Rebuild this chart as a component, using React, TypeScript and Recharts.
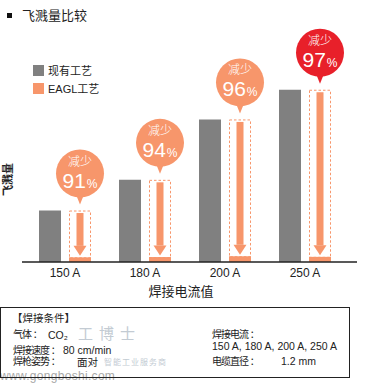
import React from 'react';
import { BarChart, Bar, XAxis, YAxis, Legend } from 'recharts';

const categories = ['150 A', '180 A', '200 A', '250 A'];
const existingValues = [52, 83, 144, 174];
const eaglValues = [4.7, 5.0, 5.8, 5.2];
const reductionLabels = ['91', '94', '96', '97'];
const highlightFlags = [false, false, false, true];
const seriesNames = ['现有工艺', 'EAGL工艺'];

const GRAY = '#808080';
const ORANGE = '#F7966B';
const RED = '#E8202A';
const CJK = '"Liberation Sans", Arial, "Noto Sans CJK SC", sans-serif';

const data = categories.map((c, i) => ({
  cat: c,
  existing: existingValues[i],
  eagl: eaglValues[i],
  rest: existingValues[i] - eaglValues[i],
  reduction: reductionLabels[i],
  highlight: highlightFlags[i],
}));

const RestShape = (props: any) => {
  const { x, y, width, height, payload } = props;
  if (x == null || y == null) return null;
  const cx = x + width / 2;
  const bottom = y + height;
  const shaftW = 7;
  const headW = 13;
  const headH = 10;
  const r = 24;
  const cy = y - 37;
  const bubbleFill = payload.highlight ? RED : ORANGE;
  return (
    <g>
      <rect
        x={x + 0.5}
        y={y + 0.5}
        width={width - 1}
        height={height}
        fill="none"
        stroke={ORANGE}
        strokeWidth={1}
        strokeDasharray="2.5 2"
      />
      <rect
        x={cx - shaftW / 2}
        y={y + 2.5}
        width={shaftW}
        height={Math.max(0, height - 2.5 - headH - 1.5)}
        fill={ORANGE}
      />
      <polygon
        points={`${cx - headW / 2},${bottom - headH - 1.5} ${cx + headW / 2},${bottom - headH - 1.5} ${cx},${bottom - 1.5}`}
        fill={ORANGE}
      />
      <circle cx={cx} cy={cy} r={r} fill={bubbleFill} />
      <polygon
        points={`${cx - 4},${cy + r - 3} ${cx + 4},${cy + r - 3} ${cx},${cy + r + 7}`}
        fill={bubbleFill}
      />
      <text
        x={cx}
        y={cy - 8}
        textAnchor="middle"
        fill="#fff"
        fontSize={12}
        fontWeight={300}
        fontFamily='"Noto Sans CJK SC", sans-serif'
      >
        减少
      </text>
      <text x={cx} y={cy + 14} textAnchor="middle" fill="#fff" fontFamily='"Liberation Sans", Arial, sans-serif'>
        <tspan fontSize={21}>{payload.reduction}</tspan>
        <tspan fontSize={12} dx={1}>%</tspan>
      </text>
    </g>
  );
};

const LegendContent = () => (
  <div style={{ fontFamily: CJK, fontSize: 11, color: '#222' }}>
    {[GRAY, ORANGE].map((c, i) => (
      <div key={i} style={{ display: 'flex', alignItems: 'center', height: 18 }}>
        <div style={{ width: 11, height: 11, background: c, marginRight: 4 }} />
        <span>{seriesNames[i]}</span>
      </div>
    ))}
  </div>
);

const abs = (left: number, top: number, extra: any = {}) => ({
  position: 'absolute' as const,
  left,
  top,
  whiteSpace: 'nowrap' as const,
  lineHeight: 1,
  ...extra,
});

const BOX_FS = 10.5;
const LBL = { fontSize: 10, letterSpacing: -1 };

export default function App() {
  return (
    <div
      style={{
        position: 'absolute',
        left: 0,
        top: 0,
        width: 366,
        height: 391,
        background: '#fff',
        fontFamily: CJK,
        color: '#222',
        overflow: 'hidden',
      }}
    >
      <BarChart
        width={366}
        height={391}
        data={data}
        margin={{ top: 64, right: 9, left: 22, bottom: 99 }}
        barSize={22}
        barGap={8}
        style={{ fontFamily: CJK }}
      >
        <XAxis
          dataKey="cat"
          height={30}
          padding={{ left: 3, right: 12 }}
          axisLine={{ stroke: '#222', strokeWidth: 1.5 }}
          tickLine={false}
          tickSize={0}
          tickMargin={6}
          tick={{ fill: '#222', fontSize: 12 }}
        />
        <YAxis
          domain={[0, 200]}
          width={0}
          tick={false}
          tickLine={false}
          axisLine={{ stroke: '#222', strokeWidth: 1.5 }}
        />
        <Legend
          layout="vertical"
          align="center"
          verticalAlign="middle"
          content={<LegendContent />}
          wrapperStyle={{ position: 'absolute', left: 33, top: 61, width: 90, height: 40, margin: 0 }}
        />
        <Bar dataKey="existing" name={seriesNames[0]} stackId="g" fill={GRAY} isAnimationActive={false} />
        <Bar dataKey="eagl" name={seriesNames[1]} stackId="e" fill={ORANGE} isAnimationActive={false} />
        <Bar
          dataKey="rest"
          stackId="e"
          fill="none"
          legendType="none"
          shape={<RestShape />}
          isAnimationActive={false}
        />
      </BarChart>

      {/* title */}
      <div style={abs(7, 13, { width: 5, height: 5, background: '#111' })} />
      <div style={abs(22, 8, { fontSize: 13, fontFamily: '"Noto Sans CJK SC", sans-serif', lineHeight: '13px' })}>
        飞溅量比较
      </div>

      {/* y axis title */}
      <div
        style={abs(-11, 174, {
          width: 36,
          textAlign: 'center',
          fontSize: 11,
          fontWeight: 700,
          fontFamily: '"Noto Sans CJK SC", sans-serif',
          transform: 'rotate(-90deg)',
          lineHeight: '11px',
        })}
      >
        飞溅量
      </div>

      {/* x axis title */}
      <div
        style={abs(141, 284, {
          width: 80,
          textAlign: 'center',
          fontSize: 13,
          fontFamily: '"Noto Sans CJK SC", sans-serif',
          lineHeight: '13px',
        })}
      >
        焊接电流值
      </div>

      {/* watermark */}
      <div style={abs(78, 325, { fontSize: 15, color: '#c3cbd3', letterSpacing: 6, fontFamily: '"Noto Sans CJK SC", sans-serif' })}>
        工博士
      </div>
      <div style={abs(104, 358, { fontSize: 8, color: '#c3cbd3', letterSpacing: 1, fontFamily: '"Noto Sans CJK SC", sans-serif' })}>
        智能工业服务商
      </div>
      <div style={abs(0, 370, { fontSize: 12, color: '#a8a8a8', letterSpacing: 0.3 })}>www.gongboshi.com</div>

      {/* conditions box */}
      <div
        style={abs(0, 307, {
          width: 350,
          height: 71,
          border: '1px solid #222',
          boxSizing: 'border-box',
        })}
      />
      <div style={abs(12, 312.5, { fontSize: BOX_FS })}>【焊接条件】</div>
      <div style={abs(13, 330, LBL)}>气体 ：</div>
      <div style={abs(48, 329.5, { fontSize: BOX_FS })}>CO₂</div>
      <div style={abs(13, 345.5, LBL)}>焊接速度 ：</div>
      <div style={abs(63, 345, { fontSize: BOX_FS })}>80 cm/min</div>
      <div style={abs(13, 357, LBL)}>焊枪姿势 ：</div>
      <div style={abs(77, 356.5, { fontSize: BOX_FS })}>面对</div>
      <div style={abs(212, 330, LBL)}>焊接电流 ：</div>
      <div style={abs(212, 341, { fontSize: BOX_FS })}>150 A, 180 A, 200 A, 250 A</div>
      <div style={abs(212, 356.5, LBL)}>电缆直径 ：</div>
      <div style={abs(281, 356, { fontSize: BOX_FS })}>1.2 mm</div>
    </div>
  );
}
